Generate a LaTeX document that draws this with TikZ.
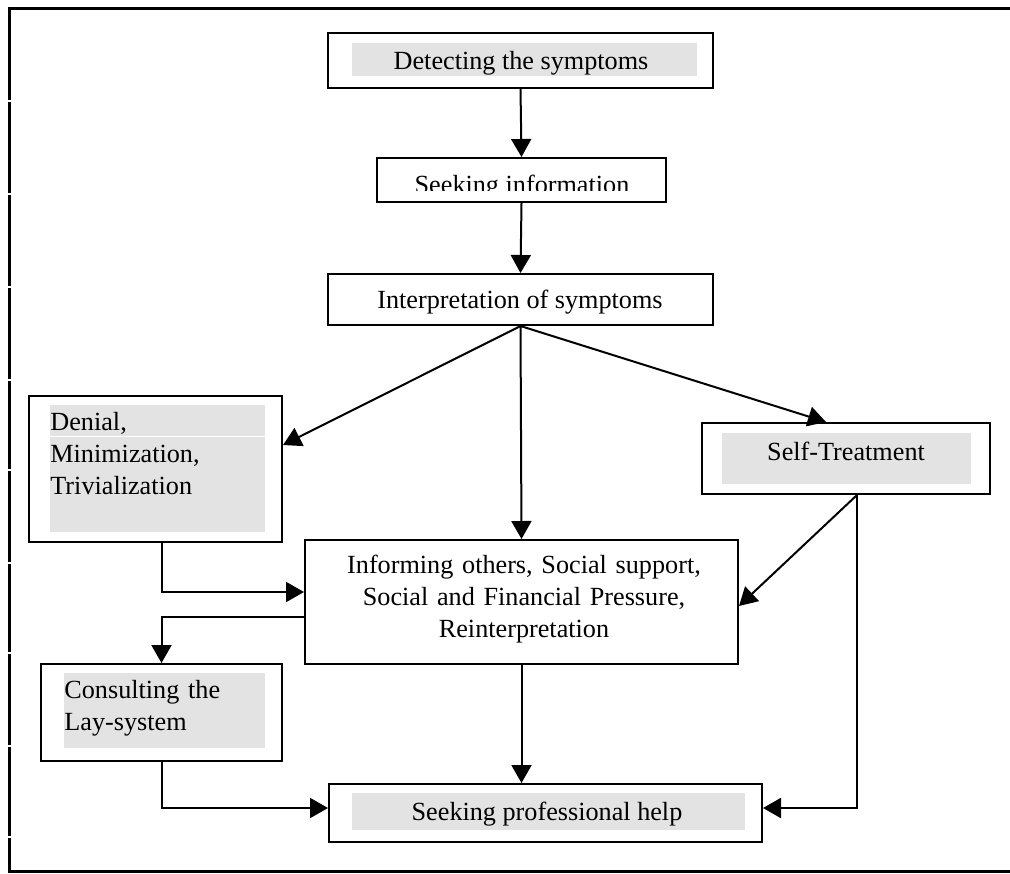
\documentclass[tikz,border=0pt]{standalone}
\usepackage{fontspec}
\setmainfont{Liberation Serif}
\usetikzlibrary{arrows.meta,calc}
\definecolor{boxgrey}{RGB}{227,227,227}
\begin{document}
\begin{tikzpicture}[x=0.5pt,y=-0.5pt,
  box/.style={draw=black,line width=1pt,rectangle,inner sep=0pt},
  lbl/.style={inner sep=0pt,font=\fontsize{13.1}{16}\selectfont},
  conn/.style={line width=1pt,-{Triangle[length=9pt,width=10pt]}},
  plainline/.style={line width=1pt},
  shade/.style={fill=boxgrey},
  frame/.style={line width=1.5pt}]
\useasboundingbox (0,0) rectangle (1010,873);
% outer frame
\draw[frame] (1010,8) -- (9.3,8) -- (9.3,871.7) -- (1010,871.7);
\foreach \gy in {101,194,287,380,470,563,653,746,837}
  \draw[white,line width=0.6pt] (6,\gy) -- (14,\gy);
% grey backgrounds
\fill[shade] (352,43) rectangle (697,76);
\fill[shade] (50,405) rectangle (265,532);
\draw[white,line width=0.5pt] (50,436) -- (265,436);
\fill[shade] (722,433) rectangle (971,484);
\fill[shade] (64,673) rectangle (265,748);
\fill[shade] (352,793) rectangle (745,830);
% boxes
\node[box,minimum width=192.5pt,minimum height=27.5pt] (detect) at (520.5,60.5) {};
\node[box,minimum width=144.5pt,minimum height=22pt] (seekinfo) at (521.5,180) {};
\node[box,minimum width=192.5pt,minimum height=25.5pt] (interp) at (520.5,299.5) {};
\node[box,minimum width=126.5pt,minimum height=73pt] (denial) at (155.5,469) {};
\node[box,minimum width=144pt,minimum height=35.5pt] (self) at (846,458.5) {};
\node[box,minimum width=216.5pt,minimum height=62pt] (inform) at (521.5,602) {};
\node[box,minimum width=120.5pt,minimum height=48.5pt] (consult) at (161.5,712.5) {};
\node[box,minimum width=216.5pt,minimum height=29pt] (prof) at (545.5,813) {};
% texts
\node[lbl,anchor=base] (detecttxt) at (521,69) {Detecting the symptoms};
\begin{scope}
  \clip (377,158) rectangle (666,190);
  \node[lbl,anchor=base] (seekinfotxt) at (522,193) {Seeking information};
\end{scope}
\node[lbl,anchor=base] (interptxt) at (520,308) {Interpretation of symptoms};
\node[lbl,anchor=base west,text width=110pt,align=left] (denialtxt) at (50,430) {Denial,\\Minimization,\\Trivialization};
\node[lbl,anchor=base] (selftxt) at (846,460) {Self-Treatment};
\node[lbl,anchor=base,text width=215pt,align=center] (informtxt) at (524,573) {Informing others, Social support,\\Social and Financial Pressure,\\Reinterpretation};
\node[lbl,anchor=base west,text width=100pt,align=left] (consulttxt) at (64,698) {Consulting the\\Lay-system};
\node[lbl,anchor=base] (proftxt) at (547,820) {Seeking professional help};
% connectors
\draw[conn] (detect.south) -- (seekinfo.north);
\draw[conn] (seekinfo.south) -- (interp.north);
\draw[conn] (interp.south) -- ($(denial.east)+(0,-24)$);
\draw[conn] (interp.south) -- (inform.north);
\draw[conn] (interp.south) -- ($(self.north)+(-20,0)$);
\draw[conn] ($(denial.south)+(6,0)$) |- ($(inform.west)+(0,-10)$);
\draw[conn] ($(inform.west)+(0,15)$) -| (consult.north);
\draw[conn] ($(self.south)+(11,0)$) -- ($(inform.east)+(0,4)$);
\draw[conn] ($(self.south)+(11,0)$) |- ($(prof.east)+(0,-5)$);
\draw[conn] (inform.south) -- (inform.south |- prof.north);
\draw[conn] (consult.south) |- ($(prof.west)+(0,-5)$);
\end{tikzpicture}
\end{document}
